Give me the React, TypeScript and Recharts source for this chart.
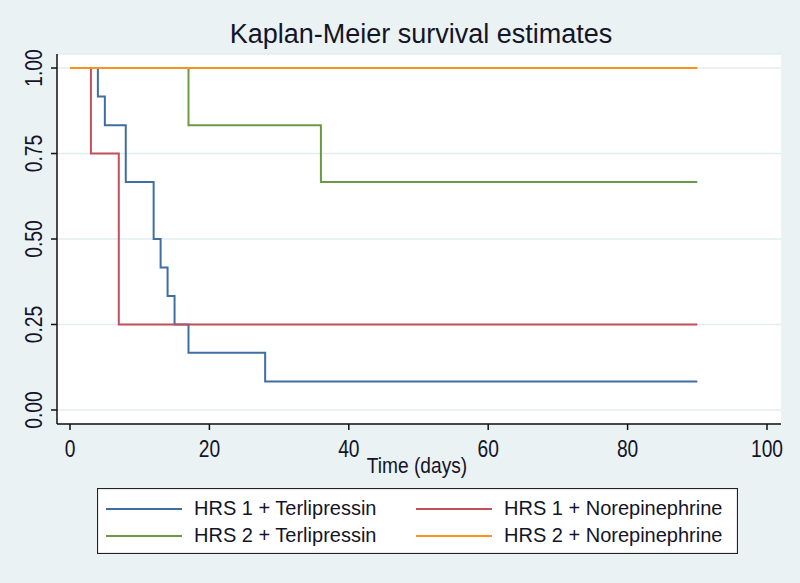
import React from 'react';
import { LineChart, Line, XAxis, YAxis, CartesianGrid, Legend, Label, Customized } from 'recharts';

const TITLE = 'Kaplan-Meier survival estimates';
const X_LABEL = 'Time (days)';
const X_TICKS = [0, 20, 40, 60, 80, 100];
const Y_TICKS = [0, 0.25, 0.5, 0.75, 1];
const Y_TICK_LABELS = ['0.00', '0.25', '0.50', '0.75', '1.00'];

const hrs1TerliTime = [0, 4, 5, 8, 12, 13, 14, 15, 17, 28, 90];
const hrs1TerliSurv = [1, 0.917, 0.833, 0.667, 0.5, 0.417, 0.333, 0.25, 0.167, 0.083, 0.083];
const hrs1NoreTime = [0, 3, 7, 90];
const hrs1NoreSurv = [1, 0.75, 0.25, 0.25];
const hrs2TerliTime = [0, 17, 36, 90];
const hrs2TerliSurv = [1, 0.833, 0.667, 0.667];
const hrs2NoreTime = [0, 90];
const hrs2NoreSurv = [1, 1];

const SERIES_NAMES = ['HRS 1 + Terlipressin', 'HRS 1 + Norepinephrine', 'HRS 2 + Terlipressin', 'HRS 2 + Norepinephrine'];
const SERIES_COLORS = ['#3f6ea3', '#c0505a', '#6a9a45', '#f7921e'];

const FONT = '"Liberation Sans", Arial, sans-serif';
const TEXT = '#141428';
const BG = '#EAF2F3';

const toData = (t: number[], s: number[]) => t.map((v, i) => ({ t: v, s: s[i] }));
const SERIES = [
  { name: SERIES_NAMES[0], color: SERIES_COLORS[0], data: toData(hrs1TerliTime, hrs1TerliSurv) },
  { name: SERIES_NAMES[1], color: SERIES_COLORS[1], data: toData(hrs1NoreTime, hrs1NoreSurv) },
  { name: SERIES_NAMES[2], color: SERIES_COLORS[2], data: toData(hrs2TerliTime, hrs2TerliSurv) },
  { name: SERIES_NAMES[3], color: SERIES_COLORS[3], data: toData(hrs2NoreTime, hrs2NoreSurv) },
];

const XTick = (props: any) => {
  const { x, y, payload } = props;
  return (
    <g transform={`translate(${x},${y + 27})`}>
      <text transform="scale(0.8,1)" textAnchor="middle" fontSize={24} fill={TEXT} fontFamily={FONT}>
        {payload.value}
      </text>
    </g>
  );
};

const YTick = (props: any) => {
  const { x, y, payload } = props;
  const idx = Y_TICKS.indexOf(payload.value);
  const label = idx >= 0 ? Y_TICK_LABELS[idx] : String(payload.value);
  return (
    <g transform={`translate(${x - 9},${y}) rotate(-90)`}>
      <text transform="scale(0.8,1)" textAnchor="middle" fontSize={24} fill={TEXT} fontFamily={FONT}>
        {label}
      </text>
    </g>
  );
};

const XLabel = (props: any) => {
  const vb = props.viewBox || { x: 57, y: 424, width: 724 };
  return (
    <g transform={`translate(${vb.x + vb.width / 2 - 2},${vb.y + 49})`}>
      <text transform="scale(0.87,1)" textAnchor="middle" fontSize={22} fill={TEXT} fontFamily={FONT}>
        {X_LABEL}
      </text>
    </g>
  );
};

const Title = () => (
  <text x={421} y={43} textAnchor="middle" fontSize={27} fill={TEXT} fontFamily={FONT}>
    {TITLE}
  </text>
);

const LegendBox = () => {
  const w = 641;
  const h = 66;
  const cols = [9, 319];
  const textOff = 88;
  const rows = [21, 48];
  return (
    <svg width={w} height={h} style={{ display: 'block' }}>
      <rect x={0.5} y={0.5} width={w - 1} height={h - 1} fill="#fff" stroke="#222" strokeWidth={1.2} />
      {SERIES.map((s, i) => {
        const cx = cols[i % 2];
        const ry = rows[Math.floor(i / 2)];
        return (
          <g key={s.name}>
            <line x1={cx} x2={cx + 76} y1={ry} y2={ry} stroke={s.color} strokeWidth={2} />
            <text x={cx + textOff} y={ry + 5.5} fontSize={20} fill={TEXT} fontFamily={FONT}>
              {s.name}
            </text>
          </g>
        );
      })}
    </svg>
  );
};

export default function App() {
  return (
    <div style={{ position: 'absolute', left: 0, top: 0, width: 800, height: 583, background: BG }}>
      <LineChart width={800} height={583} margin={{ top: 54, right: 19, bottom: 0, left: 0 }}>
        <CartesianGrid vertical={false} fill="#ffffff" stroke="#e2edf0" strokeWidth={1.5} />
        <XAxis
          type="number"
          dataKey="t"
          domain={[-1.865, 102.01]}
          ticks={X_TICKS}
          allowDataOverflow
          height={159}
          tickSize={6}
          tickMargin={0}
          tick={<XTick />}
          axisLine={{ stroke: '#111', strokeWidth: 1.5 }}
          tickLine={{ stroke: '#111', strokeWidth: 1.5 }}
        >
          <Label content={<XLabel />} />
        </XAxis>
        <YAxis
          type="number"
          domain={[-0.041, 1.041]}
          ticks={Y_TICKS}
          allowDataOverflow
          width={57}
          tickSize={6}
          tickMargin={0}
          tick={<YTick />}
          axisLine={{ stroke: '#111', strokeWidth: 1.5 }}
          tickLine={{ stroke: '#111', strokeWidth: 1.5 }}
        />
        {SERIES.map((s) => (
          <Line
            key={s.name}
            data={s.data}
            dataKey="s"
            name={s.name}
            type="stepAfter"
            stroke={s.color}
            strokeWidth={2}
            dot={false}
            activeDot={false}
            isAnimationActive={false}
          />
        ))}
        <Customized component={Title} />
        <Legend
          layout="vertical"
          align="center"
          verticalAlign="middle"
          wrapperStyle={{ left: 97, top: 488, width: 641, height: 66 }}
          content={<LegendBox />}
        />
      </LineChart>
    </div>
  );
}
